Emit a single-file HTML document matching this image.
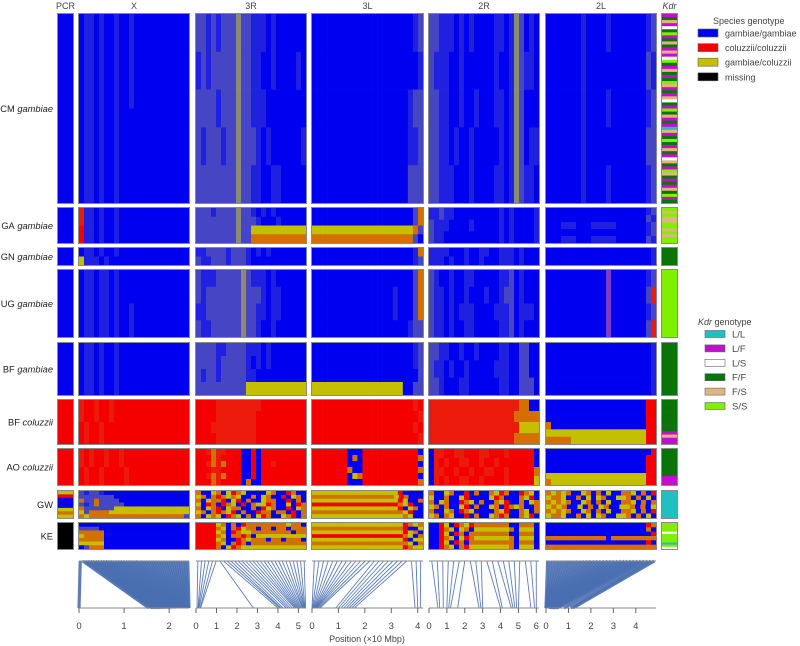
<!DOCTYPE html>
<html><head><meta charset="utf-8">
<style>
html,body{margin:0;padding:0;background:#fff;}
svg{display:block;font-family:"Liberation Sans",sans-serif;}
</style></head>
<body>
<svg id="fig" width="800" height="646" viewBox="0 0 800 646" xmlns="http://www.w3.org/2000/svg"></svg>
<script>
// ---------------- data ----------------
const columns = ["PCR","X","3R","3L","2R","2L","Kdr"];
const populations = ["CM","GA","GN","UG","BF","BFc","AO","GW","KE"];
const popNames = ["CM","GA","GN","UG","BF","BF","AO","GW","KE"];
const popSpecies = ["gambiae","gambiae","gambiae","gambiae","gambiae","coluzzii","coluzzii","",""];
const chromLengths = [2.44, 5.37, 4.2, 6.15, 4.9];
const chromTicks = [[0,1,2],[0,1,2,3,4,5],[0,1,2,3,4],[0,1,2,3,4,5,6],[0,1,2,3,4]];
// genotype codes: b gam/gam, r col/col, y gam/col, k missing, o mixed r/y, d/e speckled blue, q yellow-speckled blue, s speckled red, p dotted
const pcr = {
 CM:["b"],GA:["b"],GN:["b"],UG:["b"],BF:["b"],BFc:["r"],AO:["r"],
 GW:["y","r","b","b","b","y","o","y"],KE:["k"]
};
const gX = {
 CM:["bddbdbbdbbdbbbbbbbbbbb","bddbdbbdbbbbbbbbbbbbbb"],
 GA:["sddbdbbdbbbbbbbbbbbbbb","rddbdbbdbbbbbbbbbbbbbb"],
 GN:["bddbdbbdbbbbbbbbbbbbbb","ydddbdbbbbbbbbbbbbbbbb"],
 UG:["bddbddbdbbbbbbbbbbbbbb","bddbddbdbbdbbbbbbbbbbb"],
 BF:["bddbdbbdbbbbbbbbbbbbbb","bddbdbbdbbbbbbbbbbbbbb"],
 BFc:["srrsrrsrrrrrrrrrrrrrrr","rsrrsrrrrrrrrrrrrrrrrr"],
 AO:["srsrrsrrsrrrrrrrrrrrrr","rsrrsrrrrsrrrrrrrrrrrr"],
 GW:["edeedbbbbbbbbbbbbbbbbb","eeeeeeebbbbbbbbbbbbbbb","oeeoeeeebbbbbbbbbbbbbb","edeoeeeeebbbbbbbbbbbbb","oeeeeeeyyyyyyyyyyyyyyy","yeooooyyyyyyyyyyyyyyyy","oyoooooooooooooooooooe"],
 KE:["bbbbbbbbbbbbbbbbbbbbbb","eeeebbbbbbbbbbbbbbbbbb","ooooobbbbbbbbbbbbbbbbb","yoooobbbbbbbbbbbbbbbbb","ooooobbbbbbbbbbbbbbbbb","yyyyybbbbbbbbbbbbbbbbb","beooobbbbbbbbbbbbbbbbb"]
};
const g3R = {
 CM:["eededeeeqeedddbdbbbbbb","dedeeeeeqeeddbbdbbbbdb","eeeedeeeqeedddbbbbbbbb","edeeedeeqeeedbdbbbbbbd","eeeeeeeeqeeddbbddbbbbb"],
 GA:["eeedeeeeqeedbdbdbbbbbb","eeeeeeeeqeeedbbbdbbbbb","eeeeeeeeqeeyyyyyyyyyyy","eeeeeeeeqeeooooooooooo"],
 GN:["ddeeeedeeedbdbdbbbbbbb","eddeeedeeedbbbbbbbbbbb"],
 UG:["edddeeeeeqedddbdbbbbbb","edeeeeeeeqeeedbddbbbbb","ddeeeeeeeqeeddbddbbbbb","eddeeeeeeqeedbbdbbbbbb"],
 BF:["eeeeddeeeedddbdbbbbbbb","eeeedeeeeedbdbdbbbbbbb","edeedeeeeeddbbbbbbbbbb","eeeeeeeeeeyyyyyyyyyyyy"],
 BFc:["rrrrsssssssssrrrrrrrrr","rrrrssssssssrrrrrrrrrr","rrrsssssssssrrrrrrrrrr","rrrrssssssssrrrrrrrrrr"],
 AO:["rrsossrrrbbrbrrrrrrrrr","rrrosrrrrbbrbrrrrrrrrr","rrsosorrrbbrbrrsrrrrrr","rrrssrrrrbbrbrrrrrrrrr","rrsosorrrbbrbrrrrrrrrr","rrrosrrrrbobbrrrrrrrrr"],
 GW:["obbyobyroybbbbyobbrobb","yoboroyoybbobyobbrbyob","obyoorbyrbobbyoobbrbob","ybrobroybrboyyrobbybro","obyorbyoobbobryobbrbyo","yoboroyrbobbrooboobrbo","obyoybroybobyrobbyorbo"],
 KE:["rrrryobobrooooooooyoob","rrrroyboryoobooboobooo","rrrryobroyyooooooooboo","rrrroyboorobyyyyyyyyyy","rrrryobbroyoooboobooob","rrrroyborobooooooooooo","rrrrobyroyyyyyyyyyyyyy"]
};
const g3L = {
 CM:["bbbbbbbbbbbbbbbbbbbbde","bbbbbbbbbbbbbbbbbbbbbd","bbbbbbbbbbbbbbbbbbbdee","bbbbbbbbbbbbbbbbbbbdde","bbbbbbbbbbbbbbbbbbbeee"],
 GA:["bbbbbbbbbbbbbbbbbbbbeo","bbbbbbbbbbbbbbbbbbbbeo","yyyyyyyyyyyyyyyyyyyyoe","ooooooooooooooooooooeb"],
 GN:["bbbbbbbbbbbbbbbbbbbbdo","bbbbbbbbbbbbbbbbbbbbde"],
 UG:["bbbbbbbbbbbbbbbbbbbbeo","bbbbbbbbbbbbbbbbdbbbeo","bbbbbbbbbbbbbbbbdbbbeo","bbbbbbbbbbbbbbbbbbbdee"],
 BF:["bbbbbbbbbbbbbbbbbbbbde","bbbbbbbbbbbbbbbbbbbbde","bbbbbbbbbbbbbbbbbbbbbe","yyyyyyyyyyyyyyyyyybbee"],
 BFc:["rrrrrrrrrrrrrrrrrrrrsr","rrrrrrrrrrrrrrrrrrrrrs","rrrrrrrrrrrrrrrrrrrrsr","rrrrrrrrrrrrrrrrrrrrrs"],
 AO:["rrrrrrrbbbrrrrrrrrrrrb","rrrrrrrbobrrrrrrrrrrro","rrrrrrrbbbrrrrrrrrrrrb","rrrrrrrobbrrrrrrrrrrro","rrrrrrrbyorrrrrrrrrrrb","rrrrrrrbbbrrrrrrrrrrro"],
 GW:["yyyyyyyyyyyyyyyyyrbbbb","oooooooooooooooooyrobbb","yyyyyyyyyyyyyyyyyrybbo","rrrrrrrrrrrrrrrrroyrbb","yyyyyyyyyyyyyyyyyrbyob","ooooooooooooooooooyrbb","yyyyyyyyyyyyyyyyyyoybb"],
 KE:["yyyyyyyyyyyyyyyyyyroyo","oooooooooooooooooorbby","yyyyyyyyyyyyyyyyyyryob","rrrrrrrrrrrrrrrrrroybo","yyyyyyyyyyyyyyyyyyrbyy","oooooooooooooooooooybo","yyyyyyyyyyyyyyyyyyroyy"]
};
const g2R = {
 CM:["eedddbdbdbbbbddbdqebdb","edddbbdbbbbbbdbbdqeddb","eeddbbdbbdbbbddbdqebbb","eeddbdbbdbbbbbdbdqebdd","eedddbbbdbbbbddbdqeddb"],
 GA:["ddeddbbbbbbbbbdbdbbbbd","edddbbbbdbbbbbdbdbbbbd","eddbbbbbbbbbbbdbdbbbbd"],
 GN:["ddddbbbdbbddbbdddbdbbb","dddbdbbdbbdbbbdddbdbbb"],
 UG:["edbbdbbddbbbbbddebdbbb","eddbdbbdbbbdbbdeebdbbb","eddbdbdddbbbbdddebdddb","eddbdbbddbbbbbddebdbbb"],
 BF:["eeddbbdbbdbbbbddbbeebb","eddbdbbdbbbbbdddbbeebb","eedbbbddbbbbbbddbbeeeb"],
 BFc:["ssssssssssssssssssoobb","sssssssssssssssssooooo","ssssssssssssssssssyyyy","sssssssssssssssssooooo"],
 AO:["bssrrssrrrssrrrsrrrrrb","bsrsrrssrrsrrsrrrrrrrb","bssrrsrrsrrssrrsrrrrro","bsrsrrssrrsrrrrsrrrrry"],
 GW:["obbyobbrbobboyrobbroyb","ybbobbyrbbbbyrobbboyrb","obyobbroybobboyrbbobyo","yobobbyrbobbyobroyobbo","obbyobroybbbboyrbboybo","yoboybbrbobbyorobboyrb"],
 KE:["bbrybroyrooooooobbooob","bbroybyobyyyyyyyobyyyb","bbrybroboooooooobbooob","bbroybyroyyyyyyyobyyyb","bbrybrobooooooooobooob","bbroyboryyyyyyyyobyyyb"]
};
const g2L = {
 CM:["bbbbbbbdbbbbdbbbbbbbde","bbbbbbbdbbbbbbbbbbbbed","bbbbbbbdbbbbdbbbbbbbde","bbbbbbbdbbbbbbbbbbbbee","bbbbbbbdbbbbdbbbbbbbde"],
 GA:["bbbbbbbbbbbbbbbbbbbbde","bbbbbbbbbbbbbbbbbbbbed","bbbdddbbbdddddbbbbbbde","bbbbbbbbbbbbbbbbbbbbde","bbbdddbbbdddddbbbbbbed"],
 GN:["bbbbbbbbbbbbbbbbbbbbbd","bbbbbbbbbbbbbbbbbbbbbd"],
 UG:["bbbbbbbbbbbbpbbbbbbbde","bbbbbbbbbbbbpbbbbbbbes","bbbbbbbbbbbbpbbbbbbbde","bbbbbbbbbbbbpbbbbbbbes"],
 BF:["bbbbbbbbbbbbbbbbbbbbbd","bbbbbbbbbbbbbbbbbbbbbd","bbbbbbbbbbbbbbbbbbbbbd"],
 BFc:["bbbbbbbbbbbbbbbbbbbbrr","bbbbbbbbbbbbbbbbbbbbrr","bbbbbbbbbbbbbbbbbbbbrr","obbbbbbbbbbbbbbbbbbbrr","yyyyyyyyyyyyyyyyyyyyrr","oooooyyyyyyyyyyyyyyyrr"],
 AO:["bbbbbbbbbbbbbbbbbbbbbr","bbbbbbbbbbbbbbbbbbbbrr","bbbbbbbbbbbbbbbbbbbbrr","bbbbbbbbbbbbbbbbbbbbrr","yyyyyyyyyyyyyyyyyyyyrr","oyyyyyyyyyyyyyyyyyyyrr"],
 GW:["oyoyobbyobobybbooybobr","yooybbobybyobbyyobobyb","oyoyobbyobobybbooybobo","yoyobbybobyobbyyoboby","oyoyobbyobobybbooybobr","yooybbobybyobbyyobobyb"],
 KE:["bbbbbbbbbbbbbbbbbbbbro","bbbbbbbbbbbbbbbbbbbbob","bbbbbbbbbbbbbbbbbbbbbr","oooooooooooobooooooooo","bbbbbbbbbbbbbbbbbbbbrb","oooooooooooooooooooooo"]
};
// kdr codes: C L/L, M L/F, W L/S, G F/F, T F/S, S S/S
const kdr = {
 CM:"MGTMWGSMGTGMTMWSGMTGMGSTMGMTWGMSGTMGMCTMGSGMTGMWTGMSTGMGMTGSMG",
 GA:"STSTTSSTSTSS",GN:"G",UG:"S",BF:"G",BFc:"GGGGGGGGGGMTMM",AO:"GGGGGGGGGMMM",GW:"C",KE:"SSSSWSSSSCSW"
};
// SNP positions (x10 Mbp) shown in bottom panels
const posX = [0,1.55,1.62,1.64,1.66,1.68,1.7,1.72,1.74,1.76,1.78,1.8,1.82,1.84,1.86,1.88,1.9,1.92,1.94,1.96,1.98,2.0,2.02,2.04,2.06,2.08,2.1,2.12,2.14,2.16,2.18,2.2,2.22,2.24,2.26,2.28,2.3,2.32,2.34,2.36,2.38,2.4,2.42,2.44];
const pos3R = [0.05,0.1,0.12,0.15,0.2,0.22,2.8,4.0,4.1,4.15,4.25,4.4,4.5,4.6,4.7,4.8,4.85,4.9,4.95,5.0,5.05,5.1,5.15,5.2,5.22,5.25,5.28,5.3,5.32,5.35];
const pos3L = [0.0,0.02,0.04,0.06,0.08,0.1,0.12,0.14,0.16,0.18,0.2,0.25,0.3,0.9,1.0,1.1,1.2,1.3,1.4,1.5,1.6,3.9,4.0,4.1];
const pos2R = [0.5,0.6,0.8,1.0,1.1,1.2,1.6,2.8,2.9,3.0,4.0,4.1,4.6,4.7,4.8,4.9,5.0,5.7,5.9,6.0];
const pos2L = [0,0.01,0.02,0.03,0.04,0.05,0.06,0.07,0.08,0.09,0.1,0.11,0.12,0.13,0.14,0.15,0.16,0.17,0.18,0.2,0.22,0.24,0.26,0.28,0.3,0.33,0.36,0.4,0.45,0.5,0.8,1.1,1.2];
const speciesLegend = ["gambiae/gambiae","coluzzii/coluzzii","gambiae/coluzzii","missing"];
const kdrLegend = ["L/L","L/F","L/S","F/F","F/S","S/S"];

// ---------------- layout ----------------
const colors = {b:"#0000f0",r:"#f50000",y:"#c4bf00",k:"#000000",o:"#d47000",d:"#2020e0",e:"#4646c4",q:"#8c8a70",s:"#ec1a0a",p:"#7a3ad0"};
const kcol = {C:"#1fc0c0",M:"#c010c8",W:"#ffffff",G:"#0a740a",T:"#e0b482",S:"#80f000"};
const colX = [[58,73],[79,189],[196,306],[312,423],[429,539],[546,656],[662,677]];
const rowY = [[14,203],[208,243],[248,265],[270,337],[343,395],[400,444],[449,485],[491,518],[523,549]];
const chromGrids = [gX,g3R,g3L,g2R,g2L];
const chromPos = [posX,pos3R,pos3L,pos2R,pos2L];
const NS = "http://www.w3.org/2000/svg";
const svg = document.getElementById('fig');
function mk(tag, attrs, parent){const e=document.createElementNS(NS,tag);for(const k in attrs)e.setAttribute(k,attrs[k]);(parent||svg).appendChild(e);return e;}
function xScale(ci,v){const [a,b]=colX[ci+1];return a+(b-a)*v/chromLengths[ci];}

columns.forEach((c,i)=>{
  const t=mk('text',{x:(colX[i][0]+colX[i][1])/2,y:9,'font-size':9,'text-anchor':'middle',fill:'#444','font-style':c==='Kdr'?'italic':'normal'});
  
  
  t.textContent=c;
});
populations.forEach((p,ri)=>{
  const [y0,y1]=rowY[ri];
  const t=mk('text',{x:53,y:(y0+y1)/2+3.5,'font-size':9.3,'text-anchor':'end',fill:'#222'});
  
  
  const a=mk('tspan',{},t);a.textContent=popNames[ri];
  if(popSpecies[ri]){const b=mk('tspan',{'font-style':'italic'},t);b.textContent=' '+popSpecies[ri];}
});
function drawGrid(grid,x0,x1,y0,y1,name,cmap){
  const g=mk('g',{});
  
  
  const nr=grid.length;
  for(let r=0;r<nr;r++){
    const row=grid[r];const nc=row.length;
    const ya=y0+(y1-y0)*r/nr, yb=y0+(y1-y0)*(r+1)/nr;
    for(let c=0;c<nc;c++){
      const xa=x0+(x1-x0)*c/nc, xb=x0+(x1-x0)*(c+1)/nc;
      const rc=mk('rect',{x:xa.toFixed(2),y:ya.toFixed(2),width:(xb-xa+0.3).toFixed(2),height:(yb-ya+0.3).toFixed(2),fill:cmap[row[c]]},g);
      
      
    }
  }
  const fr=mk('rect',{x:x0-0.5,y:y0-0.5,width:x1-x0+1,height:y1-y0+1,fill:'none',stroke:'#8a8a8a','stroke-width':1},g);
  
  
}
populations.forEach((p,ri)=>{
  const [y0,y1]=rowY[ri];
  drawGrid(pcr[p].map(s=>s),colX[0][0],colX[0][1],y0,y1,'pcr-'+p.toLowerCase(),colors);
  chromGrids.forEach((gd,ci)=>{
    drawGrid(gd[p],colX[ci+1][0],colX[ci+1][1],y0,y1,'heatmap-'+p.toLowerCase()+'-'+columns[ci+1].toLowerCase(),colors);
  });
  drawGrid(kdr[p].split(''),colX[6][0],colX[6][1],y0,y1,'kdr-'+p.toLowerCase(),kcol);
});
const ly0=561, ly1=608;
const lineW=[3.2,0.9,0.9,0.9,3.2];
chromPos.forEach((arr,ci)=>{
  const [x0,x1]=colX[ci+1];
  const g=mk('g',{});
  
  
  const n=arr.length;
  arr.forEach((v,i)=>{
    const tx=x0+(x1-x0)*(i+0.5)/n;
    const ln=mk('line',{x1:tx,y1:ly0,x2:xScale(ci,v),y2:ly1,stroke:'#4a6fb0','stroke-width':lineW[ci],'stroke-opacity':0.9},g);
    
    
  });
  mk('line',{x1:x0,y1:ly0,x2:x1,y2:ly0,stroke:'#888','stroke-width':1},g);
  const ax=mk('line',{x1:x0,y1:ly1,x2:x1,y2:ly1,stroke:'#888','stroke-width':1},g);
  
  
  chromTicks[ci].forEach(tv=>{
    const tx=xScale(ci,tv);
    mk('line',{x1:tx,y1:ly1,x2:tx,y2:ly1+5,stroke:'#666','stroke-width':1},g);
    const t=mk('text',{x:tx,y:629,'font-size':9.5,'text-anchor':'middle',fill:'#444'},g);
    
    
    t.textContent=tv;
  });
});
const xt=mk('text',{x:367,y:642,'font-size':9,'text-anchor':'middle',fill:'#444'});


xt.textContent='Position (\u00d710 Mbp)';
const lg=mk('g',{});


const lt=mk('text',{x:713,y:24,'font-size':9,fill:'#444'},lg);lt.textContent='Species genotype';
const scol=["#0000f0","#f50000","#c4bf00","#000000"];
speciesLegend.forEach((s,i)=>{
  const y=33+i*14.6;
  const r=mk('rect',{x:698,y:y-4,width:20,height:8,fill:scol[i],stroke:'#666','stroke-width':0.6},lg);
  
  
  const t=mk('text',{x:725,y:y+3.5,'font-size':9,fill:'#444'},lg);
  
  
  t.textContent=s;
});
const kg=mk('g',{});


const kt=mk('text',{x:698,y:325,'font-size':9,fill:'#444'},kg);
const k1=mk('tspan',{'font-style':'italic'},kt);k1.textContent='Kdr';
const k2=mk('tspan',{},kt);k2.textContent=' genotype';
const kc=["C","M","W","G","T","S"];
kdrLegend.forEach((s,i)=>{
  const y=334+i*14.4;
  const r=mk('rect',{x:705,y:y-3.5,width:20,height:7,fill:kcol[kc[i]],stroke:'#666','stroke-width':0.6},kg);
  
  
  const t=mk('text',{x:732,y:y+3.5,'font-size':9.5,fill:'#444'},kg);
  
  
  t.textContent=s;
});
</script>
</body></html>
